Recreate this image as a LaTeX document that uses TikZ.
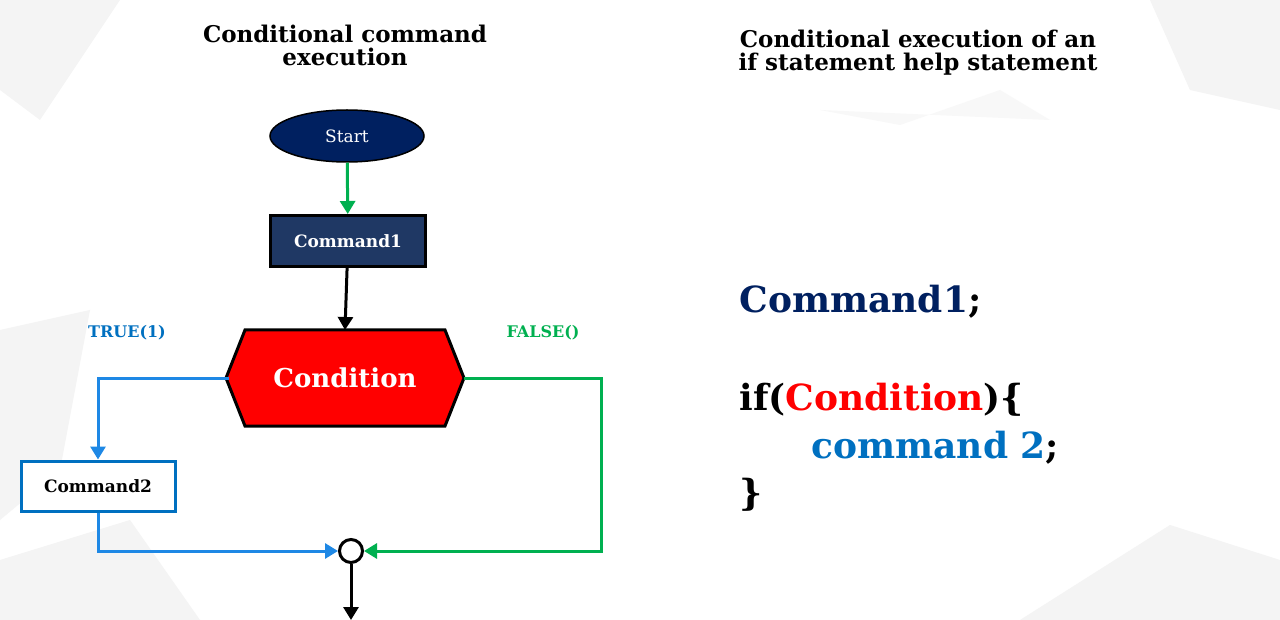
\documentclass[tikz,border=0pt]{standalone}
\usepackage{fontspec}
\setmainfont{DejaVu Serif}
\usetikzlibrary{arrows.meta,shapes.geometric}
\definecolor{navy}{RGB}{0,32,96}
\definecolor{cmdblue}{RGB}{31,56,100}
\definecolor{gr}{RGB}{0,176,80}
\definecolor{bl}{RGB}{30,136,229}
\definecolor{codeblue}{RGB}{0,112,192}
\definecolor{bg}{RGB}{244,244,244}
\tikzset{
 fs/.style={font=\fontsize{#1}{#1}\selectfont\bfseries},
 arr/.style={line width=3pt,-{Triangle[length=13pt,width=15pt]}},
 ln/.style={line width=3pt}
}
\begin{document}
\begin{tikzpicture}[x=1pt,y=-1pt]
\useasboundingbox (0,0) rectangle (1280,620);
\fill[white] (0,0) rectangle (1280,620);
% faint background shards
\fill[bg] (0,0) -- (120,0) -- (40,120) -- (0,90) -- cycle;
\fill[bg] (0,330) -- (90,310) -- (60,470) -- (0,520) -- cycle;
\fill[bg] (0,560) -- (130,520) -- (200,620) -- (0,620) -- cycle;
\fill[bg] (1020,620) -- (1170,525) -- (1280,560) -- (1280,620) -- cycle;
\fill[bg] (1150,0) -- (1280,0) -- (1280,110) -- (1190,90) -- cycle;
\fill[bg!60] (820,110) -- (900,125) -- (1000,90) -- (1050,120) -- cycle;

\node[fs=23,align=center] (t1) at (345,45) {Conditional command\\execution};
\node[fs=23,align=center] (t2) at (918,53) {Conditional execution of an\\if statement help statement};

\node[draw=black,line width=1.5pt,fill=navy,ellipse,minimum width=154pt,minimum height=52pt,text=white,font=\fontsize{17}{17}\selectfont] (start) at (347,136) {Start};
\node[draw=black,line width=3pt,fill=cmdblue,minimum width=155pt,minimum height=51pt,text=white,fs=17] (c1) at (348,241) {Command1};
\fill[red,draw=black,line width=3pt] (245,330) -- (445,330) -- (464,378) -- (445,426) -- (245,426) -- (226,378) -- cycle;
\node[text=white,fs=26] (cond) at (345,378) {Condition};
\coordinate (cl) at (229,378);
\coordinate (cr) at (464,378);
\coordinate (ct) at (345,330);
\node[draw=codeblue,line width=3pt,fill=white,minimum width=154pt,minimum height=50pt,fs=17] (c2) at (98,486) {Command2};
\node[draw=black,line width=3pt,circle,minimum size=23pt,inner sep=0] (j) at (351,551) {};
\coordinate (end) at (351,620);
\node[text=codeblue,fs=16] (tl) at (127,333) {TRUE(1)};
\node[text=gr,fs=16] (fl) at (543,333) {FALSE()};

\draw[arr,gr] (start) -- (c1);
\draw[arr,black] (c1) -- (ct);
\draw[arr,bl] (cl) -| (c2.north);
\draw[arr,bl] (c2.south) |- (j.west);
\draw[arr,gr] (cr) -- (601,378) |- (j.east);
\draw[arr,black] (j) -- (end);

\node[anchor=base west,text=navy,fs=36] (k1) at (736,313) {Command1\textcolor{black}{;}};
\node[anchor=base west,fs=36] (k2) at (736,410) {if(\textcolor{red}{Condition})\{};
\node[anchor=base west,text=codeblue,fs=36] (k3) at (808,458) {command 2\textcolor{black}{;}};
\node[anchor=base west,fs=36] (k4) at (736,505) {\}};
\end{tikzpicture}
\end{document}
